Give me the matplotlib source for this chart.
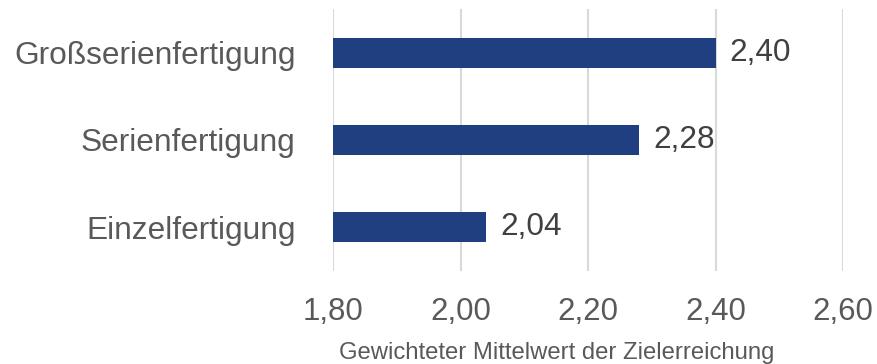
import matplotlib
matplotlib.use("Agg")
import matplotlib.pyplot as plt

categories = ["Einzelfertigung", "Serienfertigung", "Großserienfertigung"]
values = [2.04, 2.28, 2.40]
xticks = [1.80, 2.00, 2.20, 2.40, 2.60]
xlabel = "Gewichteter Mittelwert der Zielerreichung"

plt.rcParams['font.family'] = ['Liberation Sans', 'DejaVu Sans']

fig = plt.figure(figsize=(8.77, 3.64), dpi=100)
ax = fig.add_axes([333/877, 1-271/364, (843-333)/877, (271-9)/364])

y = list(range(len(categories)))
ax.barh(y, [v - xticks[0] for v in values], left=xticks[0], height=0.345,
        color="#203F80", zorder=3)
for yi, v in zip(y, values):
    ax.annotate(f"{v:.2f}".replace(".", ","), (v, yi), xytext=(10, 0),
                textcoords="offset points", va="center", ha="left",
                fontsize=22.8, color="#404040", zorder=4)

ax.set_xlim(xticks[0], xticks[-1])
ax.set_ylim(-0.5, len(categories) - 0.5)
ax.set_xticks(xticks)
ax.set_xticklabels([f"{t:.2f}".replace(".", ",") for t in xticks],
                   fontsize=22.5, color="#595959")
ax.set_yticks(y)
ax.set_yticklabels(categories, fontsize=22.8, color="#595959")
ax.tick_params(axis="x", length=0, pad=19)
ax.tick_params(axis="y", length=0, pad=27)
ax.grid(axis="x", color="#D9D9D9", linewidth=1.5, zorder=0)
for s in ax.spines.values():
    s.set_visible(False)
ax.set_xlabel(xlabel, fontsize=17.2, color="#595959", labelpad=9)
ax.xaxis.set_label_coords((557-333)/510, -0.27)
ax.xaxis.label.set_va("top")

fig.savefig("out.png", dpi=100)
